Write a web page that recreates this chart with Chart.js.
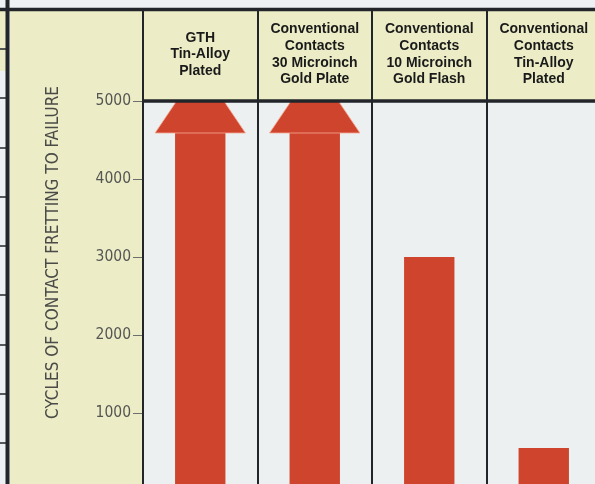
<!DOCTYPE html>
<html>
<head>
<meta charset="utf-8">
<script src="https://cdn.jsdelivr.net/npm/chart.js@4.4.1/dist/chart.umd.min.js"></script>
<style>
  html, body { margin: 0; padding: 0; background: #eef1f3; }
  #wrap { position: relative; width: 595px; height: 484px; overflow: hidden; }
  #fretting { display: block; }
</style>
</head>
<body>
<!-- the canvas runs a little past the frame so the zero line and last column edge fall just outside -->
<div id="wrap"><canvas id="fretting" width="603" height="492"></canvas></div>
<script>
const categories = [
  ['GTH', 'Tin-Alloy', 'Plated'],
  ['Conventional', 'Contacts', '30 Microinch', 'Gold Plate'],
  ['Conventional', 'Contacts', '10 Microinch', 'Gold Flash'],
  ['Conventional', 'Contacts', 'Tin-Alloy', 'Plated']
];
// cycles until fretting failure; the first two never failed within the test range
const cyclesToFailure = [5000, 5000, 3000, 550];
const offScale = [true, true, false, false];
const yTicks = [1000, 2000, 3000, 4000, 5000];
const yTitle = 'CYCLES OF CONTACT FRETTING TO FAILURE';

const PAPER = '#eef1f3';
const PANEL = '#ecedc6';
const PLOT = '#edf0f0';
const INK = '#22262a';
const RED = '#cf442c';
const NARROW = "'Liberation Sans Narrow', 'DejaVu Sans Condensed', sans-serif";
const BOLD = "'Liberation Sans', Arial, sans-serif";

const framePlugin = {
  id: 'frame',
  beforeDraw(chart) {
    const {ctx, width, height, chartArea: a} = chart;
    ctx.save();
    ctx.fillStyle = PAPER;
    ctx.fillRect(0, 0, width, height);
    ctx.fillStyle = PANEL;
    ctx.fillRect(10, 11, a.left - 10, height);
    ctx.fillRect(a.left, 11, width - a.left, a.top - 11);
    ctx.fillRect(0, 11, 6, 60);
    ctx.fillStyle = PLOT;
    ctx.fillRect(a.left, a.top, a.right - a.left, height - a.top);
    ctx.restore();
  },
  afterDatasetsDraw(chart) {
    // bars that run off the top of the scale get an arrowhead
    const {ctx, chartArea: a} = chart;
    const bars = chart.getDatasetMeta(0).data;
    ctx.save();
    ctx.beginPath();
    ctx.rect(a.left, a.top, a.right - a.left, a.bottom - a.top);
    ctx.clip();
    bars.forEach((bar, i) => {
      if (!offScale[i]) return;
      const {x, width} = bar.getProps(['x', 'width'], true);
      const half = width / 2 + 20;
      const base = a.top + 32;
      const tip = a.top - 35;
      ctx.beginPath();
      ctx.moveTo(x - half, base);
      ctx.lineTo(x, tip);
      ctx.lineTo(x + half, base);
      ctx.closePath();
      ctx.fillStyle = RED;
      ctx.fill();
      ctx.strokeStyle = 'rgba(245,170,150,0.8)';
      ctx.lineWidth = 1;
      ctx.stroke();
    });
    ctx.restore();
  },
  afterDraw(chart) {
    const {ctx, width, height, chartArea: a} = chart;
    const n = categories.length;
    const step = (a.right - a.left) / n;
    ctx.save();
    ctx.strokeStyle = INK;

    // outer rules
    ctx.lineWidth = 3.5;
    ctx.beginPath();
    ctx.moveTo(0, 9.5); ctx.lineTo(width, 9.5);
    ctx.stroke();
    ctx.lineWidth = 4;
    ctx.beginPath();
    ctx.moveTo(7.5, 0); ctx.lineTo(7.5, height);
    ctx.stroke();
    ctx.lineWidth = 3.5;
    ctx.beginPath();
    ctx.moveTo(a.left, a.top); ctx.lineTo(width, a.top);
    ctx.stroke();

    // column dividers
    ctx.lineWidth = 2;
    for (let i = 0; i <= n; i++) {
      const x = Math.round(a.left + i * step);
      ctx.beginPath();
      ctx.moveTo(x, 9); ctx.lineTo(x, height);
      ctx.stroke();
    }

    // ruled strip down the left edge
    ctx.lineWidth = 1.5;
    for (let y = 49; y < height; y += 49.25) {
      ctx.beginPath();
      ctx.moveTo(0, Math.round(y)); ctx.lineTo(6, Math.round(y));
      ctx.stroke();
    }

    // axis title
    ctx.translate(53.5, 252.5);
    ctx.rotate(-Math.PI / 2);
    ctx.fillStyle = '#4a4a48';
    ctx.font = '17px ' + NARROW;
    ctx.textAlign = 'center';
    ctx.textBaseline = 'middle';
    ctx.fillText(yTitle, 0, 0);
    ctx.restore();
  }
};

const config = {
  type: 'bar',
  data: {
    labels: categories,
    datasets: [{
      data: cyclesToFailure,
      backgroundColor: RED,
      borderWidth: 0,
      barPercentage: 0.44,
      categoryPercentage: 1
    }]
  },
  options: {
    responsive: false,
    animation: false,
    devicePixelRatio: 1,
    layout: { padding: { top: 12, left: 0, right: 2, bottom: 1 } },
    plugins: {
      legend: { display: false },
      tooltip: { enabled: false }
    },
    scales: {
      x: {
        position: 'top',
        grid: { display: false },
        border: { display: false },
        afterFit(scale) { scale.height = 89; },
        ticks: {
          autoSkip: false,
          maxRotation: 0,
          padding: 13.5,
          crossAlign: 'center',
          color: '#1a1a1a',
          font: { family: BOLD, size: 14, weight: 'bold', lineHeight: 1.19 }
        }
      },
      y: {
        min: 0,
        max: 5000,
        afterFit(scale) {
          scale.width = 143;
          // let the zero line sit at the very bottom of the canvas
          scale.paddingTop = 0;
          scale.paddingBottom = 0;
        },
        afterBuildTicks(scale) {
          scale.ticks = yTicks.map(v => ({ value: v }));
        },
        border: { display: false },
        grid: {
          drawOnChartArea: false,
          drawTicks: true,
          tickLength: 10,
          color: '#6d6f6c',
          lineWidth: 1
        },
        ticks: {
          padding: 2,
          color: '#555653',
          font: { family: NARROW, size: 15.5 },
          callback: v => String(v)
        }
      }
    }
  },
  plugins: [framePlugin]
};

new Chart(document.getElementById('fretting'), config);
</script>
</body>
</html>
